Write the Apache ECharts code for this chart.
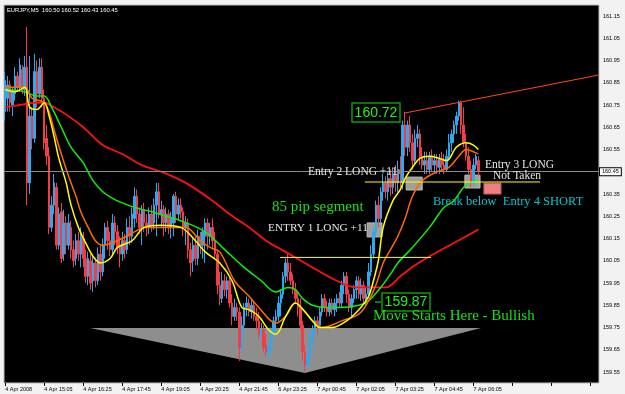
<!DOCTYPE html>
<html><head><meta charset="utf-8">
<script src="https://cdn.jsdelivr.net/npm/echarts@6/dist/echarts.min.js"></script>
<style>html,body{margin:0;padding:0;background:#f2f2f2}#c{width:625px;height:394px}</style>
</head><body><div id="c"></div><script>
// ---- data ----
const tickLabels = ["4 Apr 2008","4 Apr 15:05","4 Apr 16:25","4 Apr 17:45","4 Apr 19:05","4 Apr 20:25","4 Apr 21:45","6 Apr 23:25","7 Apr 00:45","7 Apr 02:05","7 Apr 03:25","7 Apr 04:45","7 Apr 06:05"];
const yTicks = [159.55,159.65,159.75,159.85,159.95,160.05,160.15,160.25,160.35,160.45,160.55,160.65,160.75,160.85,160.95,161.05,161.15];
const barCount = 244;
const yMin = 159.5006, yMax = 161.1994;
const currentPrice = 160.45;
// [open, close, low, high]
const candles = [
[160.72,160.86,160.68,160.90],[160.78,160.84,160.72,160.88],[160.84,160.76,160.72,160.86],[160.75,160.81,160.70,160.83],[160.80,160.88,160.77,160.92],
[160.88,160.83,160.81,160.90],[160.83,160.93,160.81,160.96],[160.91,160.82,160.80,160.93],[160.82,160.92,160.79,160.97],[160.92,160.40,160.30,161.10],
[160.40,160.70,160.35,160.97],[160.70,160.60,160.55,160.74],[160.60,160.90,160.58,160.98],[160.90,160.80,160.74,160.95],[160.80,160.92,160.78,160.96],
[160.92,160.78,160.74,160.96],[160.78,160.58,160.55,160.82],[160.60,160.52,160.48,160.66],[160.52,160.20,160.17,160.56],[160.20,160.30,160.18,160.34],
[160.30,160.40,160.26,160.44],[160.38,160.12,160.10,160.40],[160.12,160.26,160.10,160.29],[160.27,160.06,160.04,160.31],[160.08,160.22,160.05,160.28],
[160.22,160.12,160.08,160.25],[160.12,160.22,160.10,160.26],[160.20,160.10,160.06,160.23],[160.10,160.05,160.02,160.14],[160.06,160.14,160.03,160.17],
[160.14,160.08,160.05,160.18],[160.08,160.16,160.02,160.20],[160.15,160.06,160.02,160.18],[160.06,159.98,159.95,160.10],[159.98,160.06,159.94,160.09],
[160.05,159.95,159.92,160.08],[159.96,160.04,159.91,160.07],[160.04,159.96,159.93,160.06],[159.96,160.08,159.94,160.11],[160.08,160.00,159.96,160.12],
[160.00,160.12,159.98,160.15],[160.12,160.20,160.06,160.22],[160.20,160.14,160.10,160.23],[160.14,160.10,160.07,160.18],[160.10,160.22,160.08,160.26],
[160.22,160.18,160.12,160.25],[160.18,160.11,160.08,160.21],[160.12,160.08,160.02,160.16],[160.08,160.14,160.05,160.18],[160.14,160.10,160.06,160.17],
[160.10,160.20,160.08,160.24],[160.20,160.16,160.12,160.25],[160.16,160.26,160.13,160.29],[160.24,160.34,160.20,160.38],[160.34,160.26,160.22,160.37],
[160.26,160.20,160.17,160.29],[160.20,160.28,160.12,160.30],[160.28,160.22,160.18,160.31],[160.22,160.20,160.16,160.26],[160.20,160.26,160.17,160.29],
[160.26,160.21,160.18,160.30],[160.22,160.30,160.19,160.33],[160.30,160.36,160.16,160.40],[160.36,160.26,160.24,160.40],[160.26,160.28,160.20,160.32],
[160.28,160.22,160.16,160.30],[160.22,160.26,160.18,160.29],[160.26,160.20,160.17,160.28],[160.20,160.24,160.15,160.27],[160.22,160.34,160.16,160.35],
[160.34,160.26,160.22,160.36],[160.26,160.30,160.23,160.33],[160.30,160.27,160.24,160.33],[160.27,160.20,160.16,160.29],[160.20,160.22,160.12,160.25],
[160.22,160.10,160.06,160.24],[160.10,160.04,159.98,160.13],[160.05,160.12,160.00,160.15],[160.12,160.06,160.03,160.16],[160.06,160.16,160.03,160.19],
[160.16,160.12,160.08,160.18],[160.12,160.18,160.06,160.20],[160.16,160.22,160.04,160.24],[160.22,160.16,160.10,160.24],[160.16,160.20,160.12,160.22],
[160.20,160.14,160.10,160.24],[160.14,160.08,160.06,160.18],[160.08,159.94,159.90,160.10],[159.94,159.88,159.85,160.00],[159.88,159.96,159.86,160.00],
[159.96,159.92,159.89,159.99],[159.92,159.96,159.88,159.98],[159.96,159.86,159.84,159.98],[159.86,159.80,159.76,159.90],[159.80,159.84,159.78,159.88],
[159.84,159.82,159.78,159.86],[159.82,159.66,159.60,159.84],[159.66,159.76,159.64,159.80],[159.76,159.84,159.74,159.86],[159.84,159.86,159.80,159.89],
[159.86,159.82,159.80,159.88],[159.82,159.85,159.79,159.88],[159.85,159.80,159.78,159.87],[159.80,159.78,159.74,159.84],[159.78,159.72,159.70,159.82],
[159.72,159.74,159.70,159.77],[159.74,159.66,159.64,159.76],[159.67,159.64,159.62,159.72],[159.64,159.66,159.61,159.68],[159.66,159.72,159.63,159.75],
[159.72,159.78,159.70,159.80],[159.78,159.80,159.74,159.83],[159.80,159.86,159.78,159.89],[159.86,159.90,159.80,159.92],[159.90,159.98,159.88,160.00],
[159.98,160.04,159.95,160.06],[160.04,160.00,159.96,160.08],[160.00,159.96,159.94,160.04],[159.96,159.92,159.90,159.99],[159.92,159.88,159.86,159.95],
[159.88,159.84,159.80,159.91],[159.84,159.76,159.74,159.88],[159.76,159.64,159.60,159.78],[159.64,159.58,159.55,159.67],[159.58,159.62,159.56,159.66],
[159.62,159.70,159.60,159.72],[159.70,159.74,159.66,159.76],[159.74,159.78,159.72,159.80],[159.78,159.76,159.72,159.80],[159.76,159.82,159.74,159.84],
[159.82,159.88,159.80,159.90],[159.88,159.84,159.82,159.90],[159.84,159.82,159.80,159.87],[159.82,159.86,159.80,159.88],[159.86,159.83,159.81,159.88],
[159.83,159.86,159.80,159.88],[159.86,159.88,159.82,159.90],[159.88,159.86,159.84,159.91],[159.86,159.94,159.84,159.96],[159.94,159.98,159.90,160.00],
[159.98,159.90,159.86,160.00],[159.90,159.84,159.82,159.92],[159.84,159.88,159.80,159.90],[159.88,159.92,159.86,159.94],[159.92,159.96,159.88,159.98],
[159.96,159.90,159.88,159.98],[159.90,159.94,159.87,159.97],[159.94,159.88,159.86,159.96],[159.88,159.90,159.85,159.93],[159.90,160.00,159.88,160.04],
[160.00,160.08,159.98,160.12],[160.08,160.18,160.06,160.20],[160.18,160.30,160.16,160.32],[160.30,160.24,160.20,160.34],[160.24,160.36,160.22,160.38],
[160.36,160.40,160.32,160.44],[160.40,160.36,160.33,160.43],[160.36,160.42,160.32,160.45],[160.42,160.38,160.34,160.46],[160.38,160.44,160.35,160.47],
[160.44,160.40,160.36,160.48],[160.40,160.46,160.36,160.50],[160.46,160.44,160.38,160.52],[160.40,160.66,160.37,160.68],[160.66,160.56,160.52,160.72],
[160.56,160.66,160.52,160.68],[160.66,160.58,160.54,160.70],[160.58,160.50,160.46,160.62],[160.50,160.60,160.48,160.64],[160.60,160.62,160.56,160.66],
[160.62,160.52,160.48,160.64],[160.52,160.48,160.46,160.56],[160.48,160.50,160.44,160.54],[160.50,160.46,160.44,160.54],[160.46,160.52,160.44,160.54],
[160.52,160.48,160.45,160.55],[160.48,160.50,160.44,160.53],[160.50,160.47,160.44,160.53],[160.47,160.51,160.44,160.53],[160.51,160.48,160.45,160.54],
[160.48,160.46,160.44,160.53],[160.46,160.52,160.45,160.55],[160.52,160.58,160.50,160.62],[160.58,160.62,160.54,160.64],[160.62,160.66,160.58,160.68],
[160.66,160.70,160.62,160.72],[160.70,160.76,160.68,160.77],[160.76,160.66,160.62,160.77],[160.66,160.58,160.56,160.74],[160.58,160.52,160.50,160.62],
[160.52,160.46,160.44,160.56],[160.46,160.40,160.38,160.50],[160.40,160.48,160.38,160.51],[160.48,160.52,160.46,160.53],[160.50,160.45,160.43,160.52]
];
// moving averages: [barIndex, price]
const maYellow = [[0,160.82],[4,160.81],[8,160.83],[10,160.74],[13,160.73],[16,160.76],[18,160.70],[20,160.61],[22,160.51],[25,160.40],[27,160.30],[30,160.20],[33,160.13],[36,160.07],[39,160.04],[43,160.06],[46,160.11],[52,160.14],[57,160.20],[64,160.21],[72,160.20],[78,160.14],[82,160.09],[88,160.04],[93,159.96],[97,159.84],[100,159.83],[104,159.80],[108,159.74],[111,159.72],[115,159.80],[119,159.86],[123,159.82],[126,159.78],[129,159.75],[134,159.75],[140,159.78],[145,159.83],[149,159.89],[151,159.96],[153,160.05],[155,160.20],[159,160.32],[162,160.37],[164,160.42],[167,160.47],[170,160.51],[174,160.52],[178,160.51],[181,160.50],[185,160.56],[189,160.58],[192,160.57],[194,160.55]];
const maOrange = [[0,160.83],[8,160.83],[11,160.78],[14,160.77],[16,160.76],[18,160.72],[20,160.64],[23,160.53],[26,160.43],[29,160.34],[31,160.27],[34,160.20],[37,160.14],[40,160.12],[46,160.14],[53,160.18],[57,160.20],[64,160.20],[74,160.20],[80,160.14],[84,160.11],[88,160.09],[94,159.96],[100,159.89],[104,159.84],[111,159.77],[115,159.80],[119,159.86],[123,159.82],[126,159.78],[130,159.75],[138,159.78],[145,159.81],[149,159.87],[152,159.94],[155,160.04],[158,160.10],[161,160.16],[164,160.24],[167,160.34],[171,160.41],[177,160.45],[182,160.47],[186,160.52],[189,160.55],[192,160.54],[194,160.53]];
const maGreen = [[0,160.82],[8,160.81],[13,160.79],[16,160.79],[19,160.74],[23,160.65],[27,160.56],[32,160.49],[36,160.41],[40,160.36],[44,160.33],[48,160.31],[53,160.29],[60,160.27],[66,160.25],[72,160.23],[82,160.18],[90,160.10],[98,160.02],[105,159.96],[111,159.91],[116,159.93],[119,159.92],[122,159.88],[126,159.85],[132,159.84],[137,159.84],[145,159.85],[149,159.87],[154,159.93],[158,159.99],[161,160.04],[167,160.11],[174,160.20],[180,160.29],[184,160.32],[188,160.38],[191,160.40],[194,160.41]];
const maRed = [[0,160.74],[6,160.75],[12,160.76],[16,160.76],[20,160.74],[26,160.70],[32,160.65],[40,160.57],[48,160.53],[56,160.48],[64,160.45],[74,160.40],[85,160.32],[92,160.26],[100,160.20],[107,160.14],[115,160.09],[126,160.02],[136,159.96],[144,159.93],[151,159.93],[156,159.93],[162,159.98],[168,160.03],[174,160.07],[184,160.13],[194,160.19]];
// drawn objects in data space
const trendLine = [[163.9,160.714],[243.5,160.885]];
const levelLines = [[112.7,174.6,160.065],[147.5,219.3,160.404]]; // [fromBar, toBar, price]
const entryBoxes = [[148.4,154.5,160.220,160.157],[164.4,171.0,160.426,160.368],[188.5,194.7,160.435,160.377]];
const shortBoxes = [[196.3,203.3,160.399,160.350]];
const triangle = [[34.8,159.748],[195.1,159.748],[122.9,159.545]];

// ---- chart ----
const cats = Array.from({length: barCount}, (_, i) => String(i));
const chart = echarts.init(document.getElementById('c'), null, {renderer: 'canvas'});
const serif = '"Liberation Serif", "Times New Roman", serif';
const sans = '"Liberation Sans", Arial, sans-serif';

function boxSeries(data, fill, stroke) {
  return {
    type: 'custom', xAxisIndex: 1, yAxisIndex: 0, z: 1, silent: true,
    dimensions: ['x1','x2','y1','y2'], encode: {x: [0,1], y: [2,3]},
    data: data,
    renderItem: (params, api) => {
      const a = api.coord([api.value(0), api.value(2)]);
      const b = api.coord([api.value(1), api.value(3)]);
      return {type: 'rect', shape: {x: Math.min(a[0],b[0]), y: Math.min(a[1],b[1]), width: Math.abs(b[0]-a[0]), height: Math.abs(b[1]-a[1])},
        style: {fill: fill, stroke: stroke, lineWidth: 1}};
    }
  };
}
function maSeries(data, color, width) {
  return {type: 'line', xAxisIndex: 1, yAxisIndex: 0, data: data, showSymbol: false, smooth: 0.35, z: 4, silent: true,
    lineStyle: {color: color, width: width}};
}

const series = [
  {
    type: 'custom', xAxisIndex: 1, yAxisIndex: 0, z: 1, silent: true, data: [0],
    renderItem: (params, api) => ({type: 'polygon', shape: {points: triangle.map(p => api.coord(p))}, style: {fill: '#8e8e8e'}})
  },
  boxSeries(entryBoxes, '#9f9f9f', '#bdbdbd'),
  boxSeries(shortBoxes, '#ef7f82', '#c65a5a'),
  {
    type: 'candlestick', xAxisIndex: 0, yAxisIndex: 0, z: 3, barWidth: 2, silent: true,
    data: candles,
    itemStyle: {color: '#2ea9f0', color0: '#f53d45', borderColor: '#2ea9f0', borderColor0: '#f53d45', borderWidth: 1},
    markLine: {
      symbol: ['none','none'], silent: true, animation: false,
      data: [{yAxis: currentPrice}],
      lineStyle: {color: '#8a8a8a', width: 1, type: 'solid'},
      label: {show: true, position: 'end', formatter: currentPrice.toFixed(2), color: '#000', backgroundColor: '#fff',
        borderColor: '#000', borderWidth: 1, padding: [1,2,0,2], fontSize: 5.5, fontFamily: sans, distance: 1}
    }
  },
  maSeries(maRed, '#ff1010', 1.8),
  maSeries(maGreen, '#10ee10', 1.5),
  maSeries(maOrange, '#ff6a00', 1.5),
  maSeries(maYellow, '#ffff00', 1.5),
  {type: 'line', xAxisIndex: 1, yAxisIndex: 0, data: trendLine, showSymbol: false, z: 5, silent: true,
    lineStyle: {color: '#ff4a10', width: 1}}
];
levelLines.forEach(l => series.push({type: 'line', xAxisIndex: 1, yAxisIndex: 0, showSymbol: false, z: 5, silent: true,
  data: [[l[0], l[2]], [l[1], l[2]]], lineStyle: {color: '#ffff00', width: 1}}));

function txt(x, y, text, fill, size, family, align) {
  return {type: 'text', x: x, y: y, z: 100, silent: true,
    style: {text: text, fill: fill, fontSize: size, fontFamily: family, align: align || 'left', verticalAlign: 'middle'}};
}
const green = '#18e018';
const graphic = [
  txt(7, 10, 'EURJPY,M5  160.50 160.52 160.43 160.45', '#ffffff', 5.8, sans),
  {type: 'rect', z: 99, silent: true, shape: {x: 352, y: 103, width: 48, height: 19}, style: {fill: '#000', stroke: '#0c9c0c', lineWidth: 1.5}},
  txt(376, 113, '160.72', '#22ee22', 14, sans, 'center'),
  {type: 'rect', z: 99, silent: true, shape: {x: 382, y: 293, width: 48, height: 18}, style: {fill: '#000', stroke: '#0c9c0c', lineWidth: 1.5}},
  txt(406, 302.5, '159.87', '#22ee22', 14, sans, 'center'),
  {type: 'line', z: 99, silent: true, shape: {x1: 375, y1: 302, x2: 381, y2: 302}, style: {stroke: '#22ee22', lineWidth: 1}},
  txt(272, 207, '85 pip segment', green, 15, serif),
  txt(268, 228, 'ENTRY 1 LONG +11', '#e6e6e6', 11.3, serif),
  txt(308, 172, 'Entry 2 LONG +11', '#e6e6e6', 11.5, serif),
  txt(485, 164.5, 'Entry 3 LONG', '#e6e6e6', 11.5, serif),
  txt(493, 176, 'Not Taken', '#e6e6e6', 11.5, serif),
  txt(433, 202, 'Break below  Entry 4 SHORT', '#00c6d0', 12.5, serif),
  txt(373, 316, 'Move Starts Here - Bullish', green, 15, serif)
];

chart.setOption({
  animation: false,
  backgroundColor: '#f2f2f2',
  grid: {left: 4, right: 26, top: 5, bottom: 11, show: true, backgroundColor: '#000', borderColor: '#bcbcbc', borderWidth: 1},
  xAxis: [
    {type: 'category', data: cats, boundaryGap: true,
      axisLine: {show: false},
      axisTick: {show: true, interval: 15, alignWithLabel: true, length: 3, lineStyle: {color: '#000'}},
      axisLabel: {interval: 15, formatter: (v, idx) => tickLabels[idx / 16] || '', fontSize: 5.5, color: '#000', align: 'left', margin: 3, fontFamily: sans},
      splitLine: {show: false}},
    {type: 'value', min: -0.5, max: barCount - 0.5, show: false}
  ],
  yAxis: {type: 'value', position: 'right', min: yMin, max: yMax, splitLine: {show: false}, axisLine: {show: false},
    axisTick: {show: true, customValues: yTicks, length: 2, lineStyle: {color: '#000'}},
    axisLabel: {customValues: yTicks, formatter: v => v.toFixed(2), fontSize: 5.5, color: '#000', margin: 4, fontFamily: sans}},
  series: series,
  graphic: graphic
});
</script></body></html>
